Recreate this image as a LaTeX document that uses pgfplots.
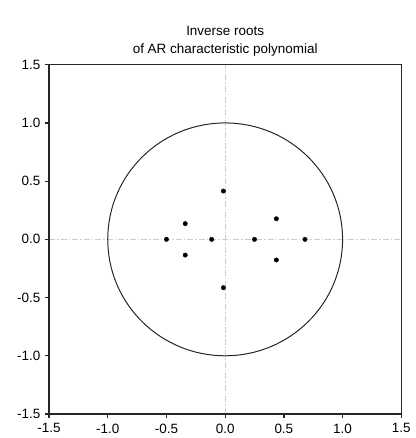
\documentclass[border=0pt]{standalone}
\usepackage{pgfplots}
\pgfplotsset{compat=1.18}
\usepackage{fontspec}
\setmainfont{Liberation Sans}

\begin{document}
\fontsize{13.5}{17}\selectfont
\begin{tikzpicture}
\begin{axis}[
    scale only axis,
    width=352bp, height=349bp,
    xmin=-1.5, xmax=1.5,
    ymin=-1.5, ymax=1.5,
    xtick={-1.5,-1,...,1.5},
    ytick={-1.5,-1,...,1.5},
    tick align=outside,
    xtick pos=bottom, ytick pos=left,
    major tick length=4bp,
    tick style={black!85, line width=1.3pt},
    axis line style={black!85, line width=1.5pt},
    /pgf/number format/.cd, fixed, fixed zerofill, precision=1, assume math mode=true,
    /pgfplots/.cd,
    tick label style={font=\fontsize{13.5}{16}\selectfont},
    xticklabel style={yshift=-1bp},
    title={Inverse roots\\of AR characteristic polynomial},
    title style={align=center, font=\fontsize{13.5}{18}\selectfont, yshift=-2bp},
    clip=false,
]
% reference lines through the origin
\draw[black!20, line width=0.9pt, dash pattern=on 6bp off 2bp on 1.5bp off 2bp]
    (axis cs:0,-1.5) -- (axis cs:0,1.5);
\draw[black!20, line width=0.9pt, dash pattern=on 6bp off 2bp on 1.5bp off 2bp]
    (axis cs:-1.5,0) -- (axis cs:1.5,0);
% frame
\draw[black!85, line width=1.5pt] (axis cs:-1.5,-1.5) rectangle (axis cs:1.5,1.5);
% unit circle
\draw[black!85, line width=1pt] (axis cs:0,0) ellipse [x radius=1, y radius=1];

\addplot[only marks, mark=*, mark size=2.2bp, black] coordinates {
    (-0.015, 0.415)
    (-0.015,-0.415)
    (-0.34, 0.135)
    (-0.34,-0.135)
    (0.436, 0.177)
    (0.436,-0.177)
    (-0.50, 0)
    (-0.115,0)
    (0.25, 0)
    (0.68, 0)
};
\end{axis}
\pgfresetboundingbox
\path ([xshift=-49bp,yshift=-24bp]current axis.south west)
    rectangle ([xshift=14bp,yshift=64.7bp]current axis.north east);
\end{tikzpicture}
\end{document}
